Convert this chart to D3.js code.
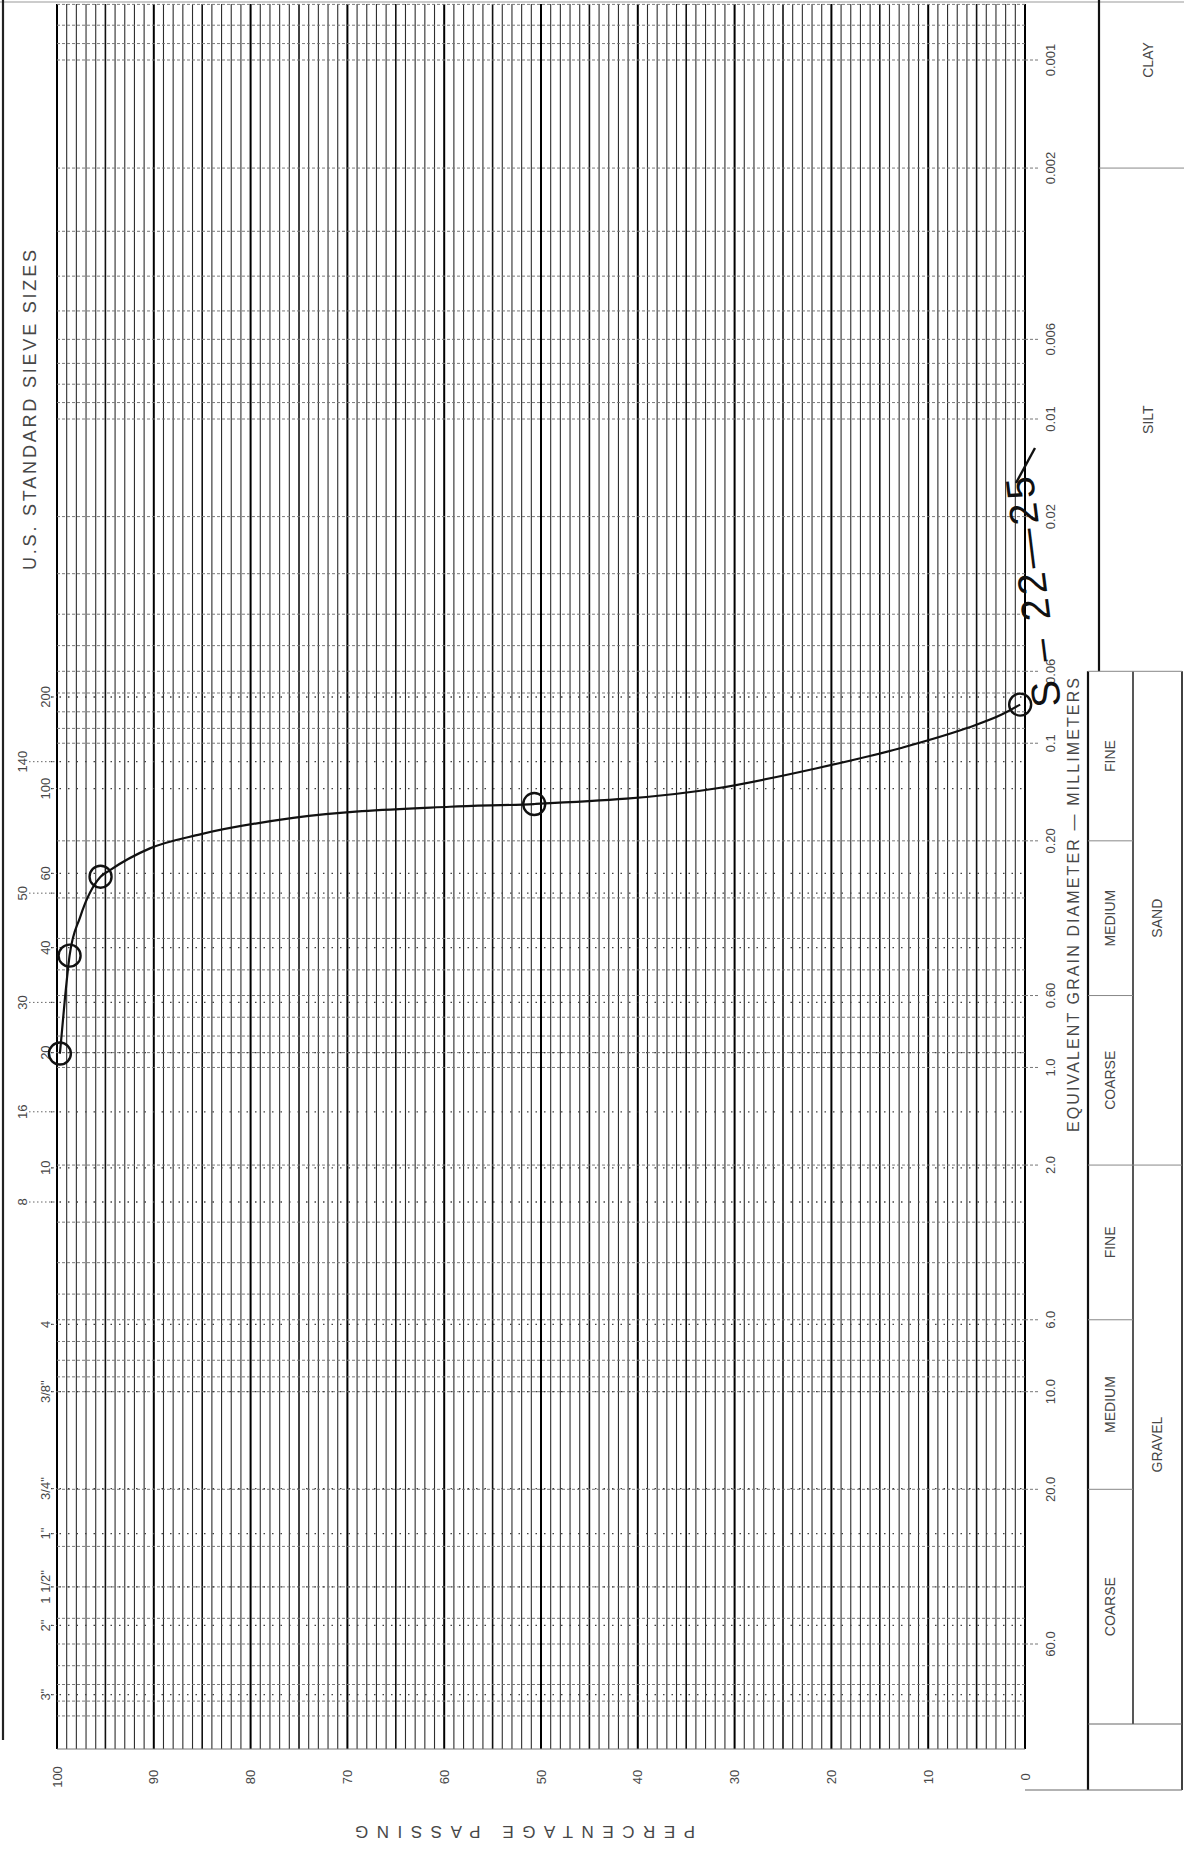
<!DOCTYPE html>
<html>
<head>
<meta charset="utf-8">
<title>Grain size distribution S-22-25</title>
<script src="https://cdn.jsdelivr.net/npm/d3@7"></script>
<style>
body { margin: 0; background: #fff; }
text { font-family: "Liberation Sans", Arial, sans-serif; fill: #474747; }
</style>
</head>
<body>
<svg id="chart" width="1184" height="1849"></svg>
<script>
// the form is scanned on its side: percentage runs along the bottom,
// grain diameter runs down the page

// percentage passing
const percentTicks = [100, 90, 80, 70, 60, 50, 40, 30, 20, 10, 0];

// equivalent grain diameter, mm
const diameterTicks = [0.001, 0.002, 0.006, 0.01, 0.02, 0.06, 0.1, 0.2, 0.6, 1, 2, 6, 10, 20, 60];
const diameterLabels = ['0.001', '0.002', '0.006', '0.01', '0.02', '0.06', '0.1', '0.20', '0.60', '1.0', '2.0', '6.0', '10.0', '20.0', '60.0'];

// U.S. standard sieves and where their line sits (mm)
const sieveNames = ['200', '140', '100', '60', '50', '40', '30', '20', '16', '10', '8', '4', '3/8"', '3/4"', '1"', '1 1/2"', '2"', '3"'];
const sieveMM = [0.072, 0.114, 0.138, 0.252, 0.29, 0.427, 0.63, 0.9, 1.37, 2.04, 2.6, 6.2, 10.0, 19.9, 27.4, 40, 52.6, 86];
const outerSieves = ['140', '50', '30', '16', '8'];

// sample points (circles)
const samplePercent = [99.7, 98.7, 95.5, 50.7, 0.5];
const sampleMM = [0.906, 0.452, 0.258, 0.154, 0.076];

// hand drawn curve
const curvePercent = [99.7, 99.2, 98.7, 97.6, 95.5, 94.6, 90.4, 85.2, 75.6, 59.4, 50.7, 31.8, 21.5, 12.9, 6.0, 2.3, 0.5];
const curveMM = [0.906, 0.622, 0.452, 0.343, 0.258, 0.247, 0.211, 0.191, 0.170, 0.157, 0.154, 0.1377, 0.1194, 0.1036, 0.0898, 0.0813, 0.076];

// soil classification table
const fineNames = ['CLAY', 'SILT'];
const fineLimits = [0.002, 0.06];
const groupNames = ['SAND', 'GRAVEL'];
const groupLimits = [0.06, 2];
const subNames = ['FINE', 'MEDIUM', 'COARSE', 'FINE', 'MEDIUM', 'COARSE'];
const subLimits = [0.06, 0.2, 0.6, 2, 6, 20];

const svg = d3.select('#chart');
const plot = { left: 57, right: 1025, top: 4, bottom: 1749 };

const x = d3.scaleLinear().domain([100, 0]).range([plot.left, plot.right]);
// top decade of the sheet is printed a bit longer than the rest
const y = d3.scaleLog().domain([0.001, 0.01, 60]).range([60, 419, 1644]);

const grid = svg.append('g');

// percentage lines, every 1%, heavier at 5 and 10
grid.selectAll('line.pct')
  .data(d3.range(0, 101))
  .join('line')
  .attr('class', 'pct')
  .attr('x1', d => x(d)).attr('x2', d => x(d))
  .attr('y1', plot.top).attr('y2', plot.bottom)
  .attr('stroke', d => d % 10 === 0 ? '#000' : d % 5 === 0 ? '#111' : '#2e2e2e')
  .attr('stroke-width', d => d % 10 === 0 ? 2 : d % 5 === 0 ? 1.6 : 1.1);

// log lines of the diameter scale
const logLines = d3.scaleLog().domain([y.invert(plot.top), y.invert(plot.bottom)]).ticks();
grid.selectAll('line.log')
  .data(logLines)
  .join('line')
  .attr('class', 'log')
  .attr('x1', plot.left).attr('x2', plot.right)
  .attr('y1', d => y(d)).attr('y2', d => y(d))
  .attr('stroke', '#7a7a7a')
  .attr('stroke-width', 1)
  .attr('stroke-dasharray', '3,2');

// sieve lines, dotted
grid.selectAll('line.sieve')
  .data(sieveMM)
  .join('line')
  .attr('class', 'sieve')
  .attr('x1', plot.left - 6).attr('x2', plot.right)
  .attr('y1', d => y(d)).attr('y2', d => y(d))
  .attr('stroke', '#444')
  .attr('stroke-width', 1.3)
  .attr('stroke-dasharray', '1.5,7');

// ticks running out to the mm labels
grid.selectAll('line.mm')
  .data(diameterTicks)
  .join('line')
  .attr('class', 'mm')
  .attr('x1', plot.right).attr('x2', 1038)
  .attr('y1', d => y(d)).attr('y2', d => y(d))
  .attr('stroke', '#777')
  .attr('stroke-dasharray', '3,2');

// frame
grid.append('line').attr('x1', plot.left).attr('x2', plot.right)
  .attr('y1', plot.bottom).attr('y2', plot.bottom).attr('stroke', '#777');
grid.append('line').attr('x1', 0).attr('x2', 1184)
  .attr('y1', 2).attr('y2', 2).attr('stroke', '#999');
grid.append('line').attr('x1', 3).attr('x2', 3)
  .attr('y1', 0).attr('y2', 1740).attr('stroke', '#222').attr('stroke-width', 2.2);

function sideText(g, px, py, str, size, angle) {
  return g.append('text')
    .attr('transform', `translate(${px},${py}) rotate(${angle})`)
    .attr('text-anchor', 'middle')
    .attr('dominant-baseline', 'central')
    .attr('font-size', size)
    .text(str);
}

const labels = svg.append('g');

// percentage labels + title
percentTicks.forEach(p => sideText(labels, x(p), 1777, p, 13, -90));
sideText(labels, 525, 1831, 'PERCENTAGE PASSING', 17, 180).attr('textLength', 340);

// diameter labels + title
diameterTicks.forEach((d, i) => sideText(labels, 1050, y(d), diameterLabels[i], 13, -90));
sideText(labels, 1073, 905, 'EQUIVALENT GRAIN DIAMETER \u2014 MILLIMETERS', 16, -90).attr('textLength', 454);

// sieve labels down the left side
sideText(labels, 30, 410, 'U.S. STANDARD SIEVE SIZES', 18, -90).attr('textLength', 320);
sieveNames.forEach((name, i) => {
  const outer = outerSieves.includes(name);
  const lx = outer ? 22 : 45;
  sideText(labels, lx, y(sieveMM[i]), name, 13, -90);
  labels.append('line')
    .attr('x1', lx + 7).attr('x2', plot.left)
    .attr('y1', y(sieveMM[i])).attr('y2', y(sieveMM[i]))
    .attr('stroke', '#666')
    .attr('stroke-dasharray', outer ? '1.5,2.5' : '2,2');
});

// classification table on the right
const table = svg.append('g');
const tableTop = y(0.06);
const subBottom = 1724;
const tableBottom = 1790;
const border = (x1, y1, x2, y2, w, col) => table.append('line')
  .attr('x1', x1).attr('y1', y1).attr('x2', x2).attr('y2', y2)
  .attr('stroke', col || '#111').attr('stroke-width', w || 2.2);

// clay / silt column
border(1099, 0, 1099, tableTop);
border(1099, y(fineLimits[0]), 1184, y(fineLimits[0]), 1, '#888');
sideText(table, 1148, y(0.001), fineNames[0], 14, -90); // sits on the 0.001 line like the form
sideText(table, 1148, (y(fineLimits[0]) + y(fineLimits[1])) / 2, fineNames[1], 14, -90);

// sand / gravel
border(1088, tableTop, 1088, tableBottom);
border(1182, tableTop, 1182, tableBottom, 1.6);
border(1133, tableTop, 1133, subBottom, 1.4);
border(1088, tableTop, 1182, tableTop, 1, '#888');
border(1088, subBottom, 1182, subBottom, 1, '#666');
border(1025, tableBottom, 1182, tableBottom, 1.2, '#666');

subLimits.forEach((lim, i) => {
  const y0 = y(lim);
  const y1 = i < subLimits.length - 1 ? y(subLimits[i + 1]) : subBottom;
  if (i > 0) border(1088, y0, 1133, y0, 1, '#888');
  sideText(table, 1110, (y0 + y1) / 2, subNames[i], 14, -90);
});
groupLimits.forEach((lim, i) => {
  const y0 = y(lim);
  const y1 = i < groupLimits.length - 1 ? y(groupLimits[i + 1]) : subBottom;
  if (i > 0) border(1133, y0, 1182, y0, 1, '#888');
  sideText(table, 1157, (y0 + y1) / 2, groupNames[i], 14, -90);
});

// sample curve
const curve = curvePercent.map((p, i) => [x(p), y(curveMM[i])]);
svg.append('path')
  .datum(curve)
  .attr('d', d3.line().curve(d3.curveMonotoneX))
  .attr('fill', 'none')
  .attr('stroke', '#111')
  .attr('stroke-width', 2.2);

svg.selectAll('circle.sample')
  .data(samplePercent)
  .join('circle')
  .attr('class', 'sample')
  .attr('cx', d => x(d))
  .attr('cy', (d, i) => y(sampleMM[i]))
  .attr('r', 11)
  .attr('fill', 'none')
  .attr('stroke', '#111')
  .attr('stroke-width', 2.4);

// handwritten sample number
sideText(svg, 1033, 592, 'S \u2013 22\u201425', 40, -97)
  .attr('textLength', 232)
  .style('fill', '#111');
svg.append('line')
  .attr('x1', 1016).attr('y1', 483).attr('x2', 1035).attr('y2', 448)
  .attr('stroke', '#111').attr('stroke-width', 2.4);
</script>
</body>
</html>
